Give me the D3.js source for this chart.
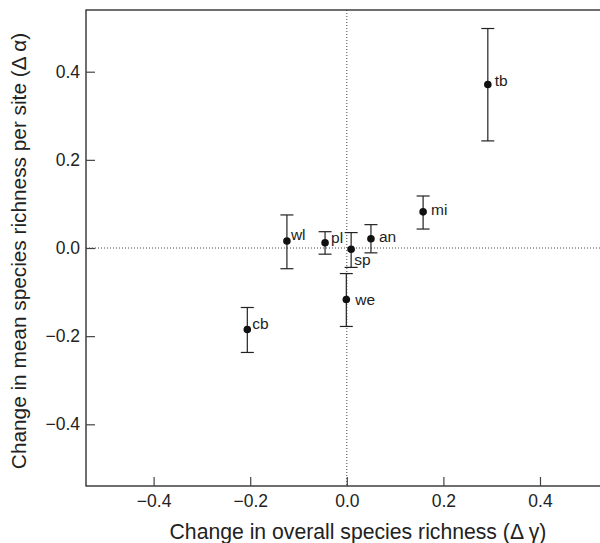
<!DOCTYPE html>
<html>
<head>
<meta charset="utf-8">
<script src="https://cdn.jsdelivr.net/npm/d3@7"></script>
<style>
  body { margin: 0; background: #fff; }
  text { font-family: "Liberation Sans", Arial, Helvetica, sans-serif; fill: #222; }
</style>
</head>
<body>
<script>
// sites and their changes (delta gamma, delta alpha) with error bar limits
var sites = ['tb', 'mi', 'wl', 'pl', 'sp', 'an', 'we', 'cb'];
var dGamma = [0.292, 0.158, -0.124, -0.045, 0.009, 0.050, -0.001, -0.206];
var dAlpha = [0.371, 0.082, 0.016, 0.012, -0.003, 0.021, -0.117, -0.185];
var alphaLo = [0.243, 0.043, -0.047, -0.014, -0.044, -0.011, -0.178, -0.237];
var alphaHi = [0.498, 0.118, 0.075, 0.037, 0.035, 0.053, -0.058, -0.135];
var ticks = [-0.4, -0.2, 0.0, 0.2, 0.4];

// label nudges (px) so the site names sit like in the figure
var nudge = {
  tb: [7, -4], mi: [8, -2], wl: [4, -6], pl: [6, -5],
  sp: [3, 10], an: [8, -2], we: [9, 0], cb: [5, -6]
};

var width = 600;
var height = 543;
var svg, x, y;

init();

function init() {
    svg = d3.select('body').append('svg')
        .attr('width', width)
        .attr('height', height);

    x = d3.scaleLinear().domain([-0.54, 0.54]).range([86, 607.6]);
    y = d3.scaleLinear().domain([-0.54, 0.54]).range([486, 10]);

    drawZeroLines();
    drawFrame();
    drawAxes();
    drawPoints();
}

function drawZeroLines() {
    svg.append('line')
        .attr('x1', x(0)).attr('x2', x(0))
        .attr('y1', y(0.54)).attr('y2', y(-0.54))
        .attr('stroke', '#444').attr('stroke-width', 1)
        .attr('stroke-dasharray', '1,2');
    svg.append('line')
        .attr('x1', x(-0.54)).attr('x2', x(0.54))
        .attr('y1', y(0)).attr('y2', y(0))
        .attr('stroke', '#444').attr('stroke-width', 1)
        .attr('stroke-dasharray', '1,2');
}

function drawFrame() {
    svg.append('rect')
        .attr('x', x(-0.54)).attr('y', y(0.54))
        .attr('width', x(0.54) - x(-0.54))
        .attr('height', y(-0.54) - y(0.54))
        .attr('fill', 'none')
        .attr('stroke', '#222')
        .attr('stroke-width', 1.3);
}

function fmt(d) {
    return d3.format('.1f')(d).replace('-', '\u2212');
}

function drawAxes() {
    var xAxis = d3.axisBottom(x).tickValues(ticks).tickFormat(fmt)
        .tickSizeInner(-9).tickSizeOuter(0).tickPadding(9);
    var gx = svg.append('g')
        .attr('transform', 'translate(0,' + y(-0.54) + ')')
        .call(xAxis);
    gx.select('.domain').remove();
    gx.selectAll('line').attr('stroke', '#444').attr('stroke-width', 1.2);
    gx.selectAll('text').attr('font-size', 17.5).attr('fill', '#222');

    var yAxis = d3.axisLeft(y).tickValues(ticks).tickFormat(fmt)
        .tickSizeInner(-9).tickSizeOuter(0).tickPadding(6);
    var gy = svg.append('g')
        .attr('transform', 'translate(' + x(-0.54) + ',0)')
        .call(yAxis);
    gy.select('.domain').remove();
    gy.selectAll('line').attr('stroke', '#444').attr('stroke-width', 1.2);
    gy.selectAll('text').attr('font-size', 17.5).attr('fill', '#222');

    svg.append('text')
        .attr('x', 358).attr('y', 539)
        .attr('text-anchor', 'middle')
        .attr('font-size', 21.2)
        .text('Change in overall species richness (\u0394 \u03b3)');

    svg.append('text')
        .attr('transform', 'translate(26,251) rotate(-90)')
        .attr('text-anchor', 'middle')
        .attr('font-size', 20.8)
        .text('Change in mean species richness per site (\u0394 \u03b1)');
}

function drawPoints() {
    var rows = sites.map(function(s, i) {
        return { site: s, gx: dGamma[i], ay: dAlpha[i], lo: alphaLo[i], hi: alphaHi[i] };
    });

    var g = svg.selectAll('.site').data(rows).enter().append('g').attr('class', 'site');

    g.append('line')
        .attr('x1', function(d) { return x(d.gx); })
        .attr('x2', function(d) { return x(d.gx); })
        .attr('y1', function(d) { return y(d.lo); })
        .attr('y2', function(d) { return y(d.hi); })
        .attr('stroke', '#222').attr('stroke-width', 1.2);

    [ 'lo', 'hi' ].forEach(function(k) {
        g.append('line')
            .attr('x1', function(d) { return x(d.gx) - 6.5; })
            .attr('x2', function(d) { return x(d.gx) + 6.5; })
            .attr('y1', function(d) { return y(d[k]); })
            .attr('y2', function(d) { return y(d[k]); })
            .attr('stroke', '#222').attr('stroke-width', 1.2);
    });

    g.append('circle')
        .attr('cx', function(d) { return x(d.gx); })
        .attr('cy', function(d) { return y(d.ay); })
        .attr('r', 3.8)
        .attr('fill', '#111');

    g.append('text')
        .attr('x', function(d) { return x(d.gx) + nudge[d.site][0]; })
        .attr('y', function(d) { return y(d.ay) + nudge[d.site][1]; })
        .attr('dy', '0.35em')
        .attr('font-size', 15.5)
        .text(function(d) { return d.site; });
}
</script>
</body>
</html>
